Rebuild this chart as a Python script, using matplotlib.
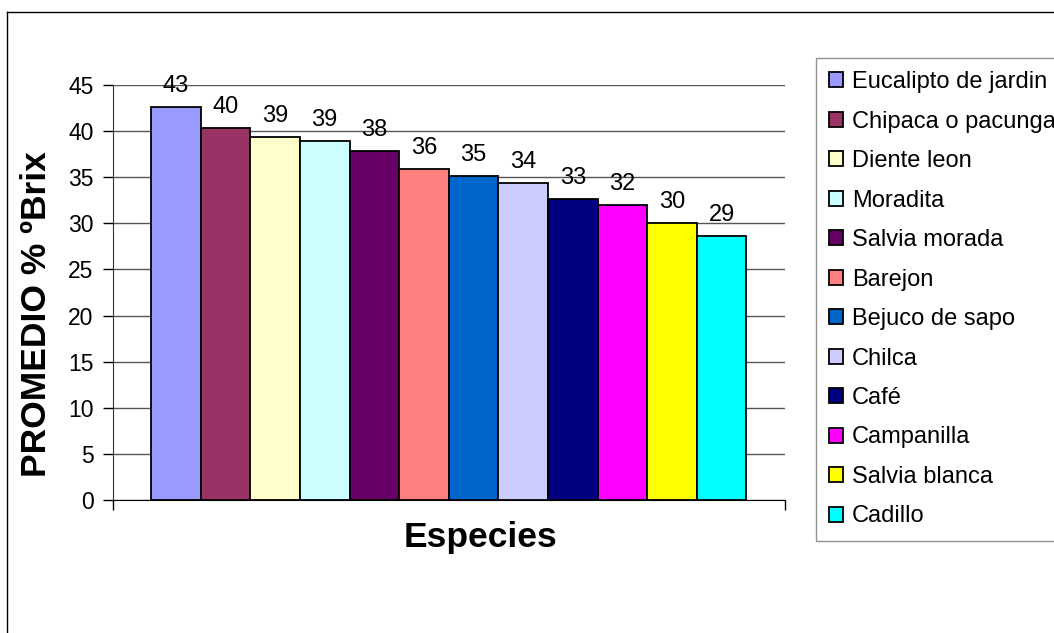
import matplotlib.pyplot as plt
import numpy as np
from matplotlib.lines import Line2D

plt.rcParams['font.family'] = ['Liberation Sans', 'DejaVu Sans']

especies = ['Eucalipto de jardin', 'Chipaca o pacunga', 'Diente leon', 'Moradita',
            'Salvia morada', 'Barejon', 'Bejuco de sapo', 'Chilca', 'Café',
            'Campanilla', 'Salvia blanca', 'Cadillo']
brix = [42.6, 40.3, 39.4, 38.9, 37.8, 35.9, 35.1, 34.4, 32.6, 32.0, 30.0, 28.6]
colores = ['#9999FF', '#993366', '#FFFFCC', '#CCFFFF', '#660066', '#FF8080',
           '#0066CC', '#CCCCFF', '#000080', '#FF00FF', '#FFFF00', '#00FFFF']
yticks = list(range(0, 50, 5))

W, H = 1054, 633
fig = plt.figure(figsize=(W / 100, H / 100), dpi=100)
ax = fig.add_axes([113 / W, 1 - 500 / H, (785 - 113) / W, (500 - 85) / H])

x = np.arange(len(brix))
barras = ax.bar(x, brix, width=1.0, color=colores, edgecolor='black', linewidth=1.3,
                label=especies, zorder=3)
for xi, v in zip(x, brix):
    ax.annotate('%.0f' % v, (xi, v), xytext=(0, 10.8), textcoords='offset points',
                ha='center', va='baseline', fontsize=17)

ax.set_xlim(-1.266, 12.276)
ax.set_ylim(0, 45)
ax.set_yticks(yticks)
ax.set_xticks([-1.266, 12.276])
ax.set_xticklabels(['', ''])
ax.tick_params(axis='y', direction='out', length=7, width=1, labelsize=16.5, pad=7)
ax.tick_params(axis='x', direction='out', length=7, width=1)
ax.grid(axis='y', color='#555555', linewidth=1, zorder=0)
ax.spines['top'].set_visible(False)
ax.spines['right'].set_visible(False)
ax.spines['left'].set_color('#333333')
ax.spines['bottom'].set_color('black')

fig.text(37 / W, 1 - 314 / H, 'PROMEDIO % ºBrix', rotation=90, ha='center', va='center',
         fontsize=25.5, fontweight='bold')
fig.text(480 / W, 1 - 537 / H, 'Especies', ha='center', va='center',
         fontsize=25.5, fontweight='bold')

leg = fig.legend(handles=list(barras), labels=especies, loc='upper left',
                 bbox_to_anchor=(816 / W, 1 - 58 / H), fontsize=17, frameon=True,
                 fancybox=False, edgecolor='#777777', borderpad=0.56, labelspacing=0.74,
                 handlelength=0.59, handleheight=0.59, handletextpad=0.38, borderaxespad=0)
leg.get_frame().set_linewidth(1)

# marco exterior del grafico
fig.add_artist(Line2D([7 / W, 7 / W], [0, 1 - 12 / H], color='black', linewidth=1))
fig.add_artist(Line2D([7 / W, 1], [1 - 12 / H, 1 - 12 / H], color='black', linewidth=1))

fig.savefig('out.png', dpi=100)
